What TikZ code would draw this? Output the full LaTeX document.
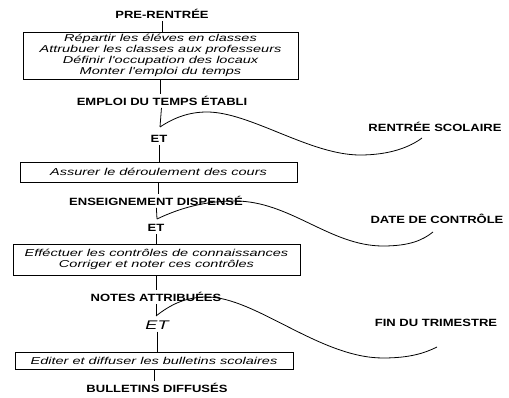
\documentclass[tikz,border=0pt]{standalone}
\usepackage{fontspec}
\newfontfamily\etatfont[FakeStretch=1.24]{Liberation Sans}
\newfontfamily\tachefont[FakeStretch=1.45]{Liberation Sans}

\tikzset{
    etat/.style  = {font = \etatfont\bfseries\fontsize{10.5}{12}\selectfont, inner sep = 2pt},
    et/.style    = {font = \tachefont\itshape\fontsize{12.5}{14}\selectfont, inner sep = 2pt},
    tache/.style = {draw, line width = 0.8pt, inner xsep = 0pt, inner ysep = 1pt, align = center,
                    font = \tachefont\itshape\fontsize{10}{11}\selectfont},
    lien/.style  = {line width = 0.8pt},
}

\begin{document}
\begin{tikzpicture}[x = 1pt, y = -1pt]
    \useasboundingbox (0,0) rectangle (509,398);

    % etats et taches
    \node [etat] (pre) at (162,14) {PRE-RENTRÉE};
    \node [tache, minimum width = 275, minimum height = 47] (t1) at (160.5,55.5)
        {Répartir les éléves en classes\\Attrubuer les classes aux professeurs\\
         Définir l'occupation des locaux\\Monter l'emploi du temps};
    \node [etat] (emploi) at (162,101) {EMPLOI DU TEMPS ÉTABLI};
    \coordinate (j1) at (160,127);
    \node [etat] (et1) at (159,139) {ET};
    \node [etat] (rentree) at (435,127) {RENTRÉE SCOLAIRE};
    \coordinate (f1) at (422,138);

    \node [tache, minimum width = 277, minimum height = 20] (t2) at (158.5,172)
        {Assurer le déroulement des cours};
    \node [etat] (ens) at (156,201) {ENSEIGNEMENT DISPENSÉ};
    \coordinate (j2) at (157,219);
    \node [etat] (et2) at (156,228) {ET};
    \node [etat] (date) at (437,219) {DATE DE CONTRÔLE};
    \coordinate (f2) at (433,232);

    \node [tache, minimum width = 287, minimum height = 31] (t3) at (156.5,259.5)
        {Efféctuer les contrôles de connaissances\\Corriger et noter ces contrôles};
    \node [etat] (notes) at (156,297) {NOTES ATTRIBUÉES};
    \coordinate (j3) at (156,316);
    \node [et] (et3) at (157,325) {ET};
    \node [etat] (fin) at (436,323) {FIN DU TRIMESTRE};
    \coordinate (f3) at (437,347);

    \node [tache, minimum width = 278, minimum height = 17] (t4) at (154,360.5)
        {Editer et diffuser les bulletins scolaires};
    \node [etat] (bull) at (157,388) {BULLETINS DIFFUSÉS};

    % liens verticaux
    \draw [lien] (pre)    -- (pre |- t1.north);
    \draw [lien] (t1)     -- (t1 |- emploi.north);
    \draw [lien] (emploi) -- (j1);
    \draw [lien] (et1)    -- (et1 |- t2.north);
    \draw [lien] (t2)     -- (t2 |- ens.north);
    \draw [lien] (ens)    -- (j2);
    \draw [lien] (et2)    -- (et2 |- t3.north);
    \draw [lien] (t3)     -- (t3 |- notes.north);
    \draw [lien] (notes)  -- (j3);
    \draw [lien] (et3)    -- (et3 |- t4.north);
    \draw [lien] (t4)     -- (t4 |- bull.north);

    % evenements
    \draw [lien] (j1) .. controls (175,117) and (190,112) .. (207,112)
                      .. controls (250,112) and (310,155) .. (360,155)
                      .. controls (390,155) and (410,147) .. (f1);
    \draw [lien] (j2) .. controls (180,208) and (205,201) .. (235,201)
                      .. controls (290,201) and (330,246) .. (383,246)
                      .. controls (410,246) and (423,240) .. (f2);
    \draw [lien] (j3) .. controls (170,305) and (185,297) .. (207,297)
                      .. controls (255,297) and (320,358) .. (383,358)
                      .. controls (410,358) and (425,353) .. (f3);
\end{tikzpicture}
\end{document}
